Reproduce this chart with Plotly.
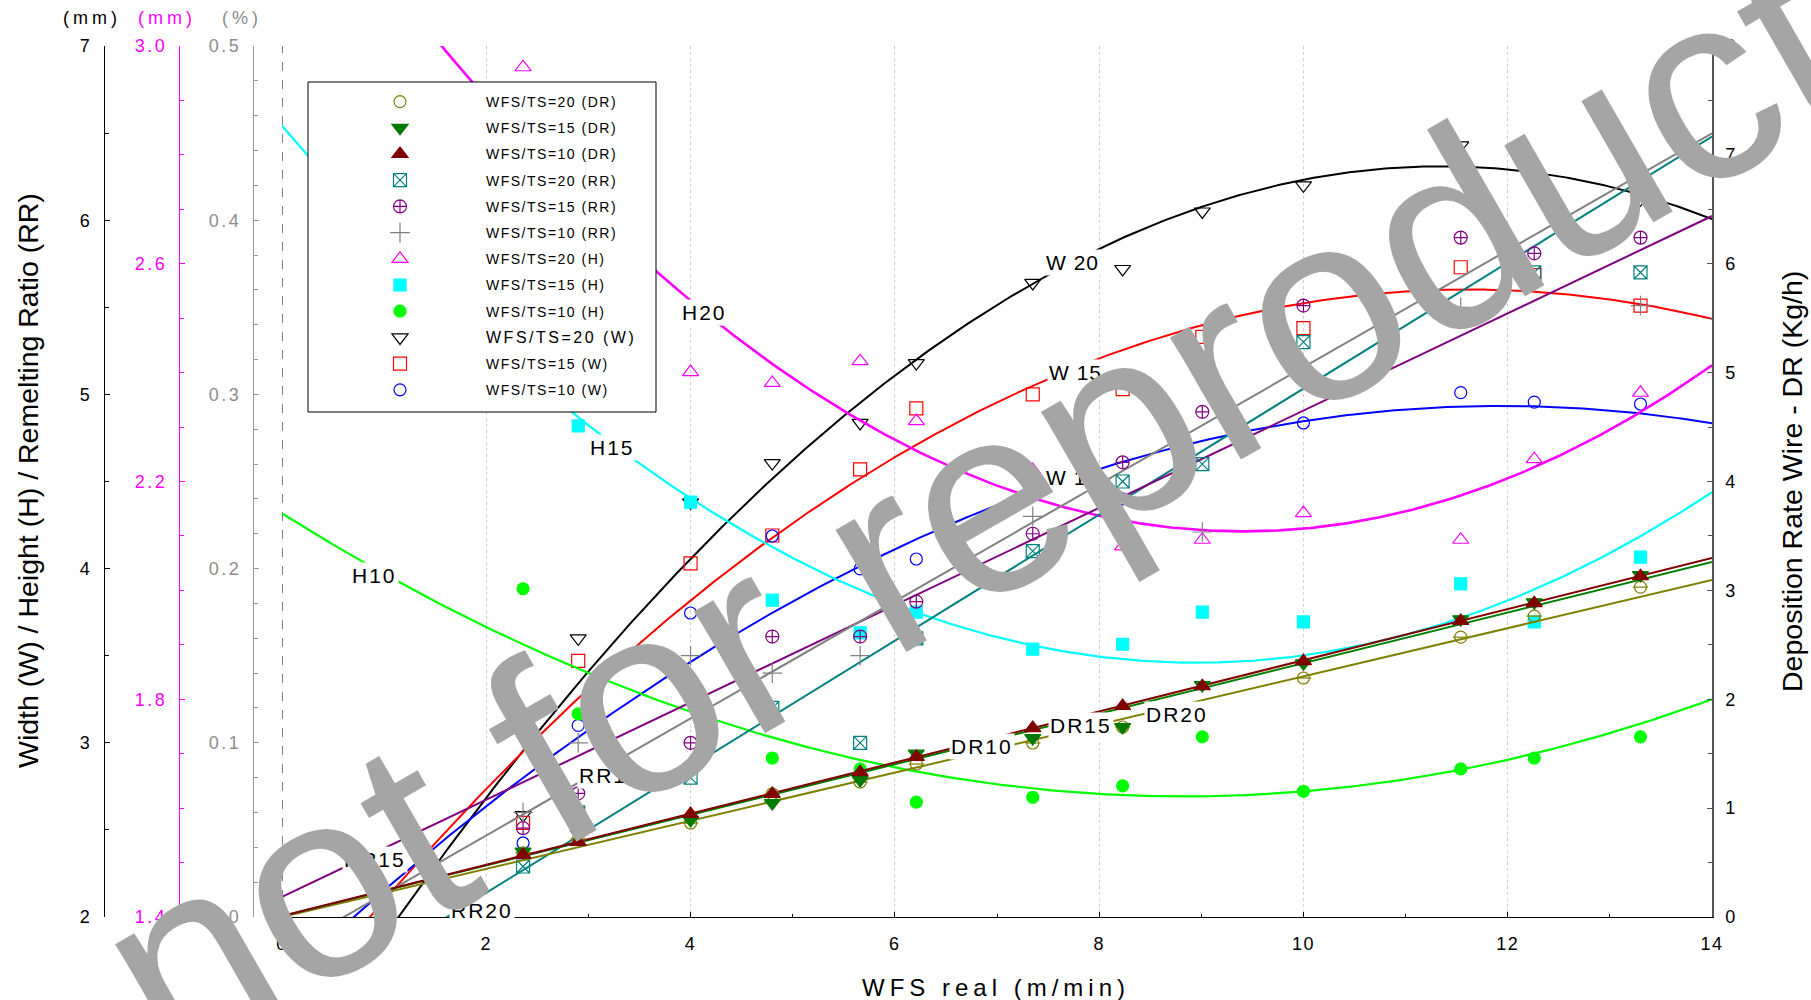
import numpy as np
import plotly.graph_objects as go

FONT = "Liberation Sans, Arial, sans-serif"
FIG_W, FIG_H = 1811, 1000

# ---------------- measured data (WFS real, m/min) ----------------
wfs = [2.36, 2.90, 4.00, 4.80, 5.66, 6.21, 7.35, 8.23, 9.01, 10.00, 11.54, 12.26, 13.30]

# Width (mm)
w20 = [2.585, 3.60, 4.38, 4.606, 4.836, 5.18, 5.64, 5.72, 6.05, 6.20, 6.43, 6.28, 6.12]
w15 = [2.54, 3.47, 4.03, 4.19, 4.57, 4.92, 5.00, 5.03, 5.33, 5.38, 5.73, 5.685, 5.51]
w10 = [2.425, 3.10, 3.745, 4.187, 3.998, 4.055, 4.48, 4.40, None, 4.836, 5.01, 4.956, 4.945]
# Height (mm)
h20 = [2.961, None, 2.401, 2.381, 2.421, 2.311, 2.221, 2.081, 2.093, 2.142, 2.093, 2.241, 2.363]
h15 = [None, 2.302, 2.162, 1.982, 1.922, 1.960, 1.892, 1.901, 1.960, 1.942, 2.012, 1.942, 2.061]
h10 = [2.003, 1.773, 1.811, 1.692, 1.672, 1.611, 1.620, 1.641, 1.731, 1.631, 1.672, 1.692, 1.731]
# Remelting ratio (%)
rr20 = [0.029, 0.060, 0.080, 0.120, 0.100, 0.160, 0.210, 0.250, 0.260, 0.330, 0.430, 0.370, 0.370]
rr15 = [0.051, 0.071, 0.100, 0.161, 0.161, 0.181, 0.220, 0.261, 0.290, 0.351, 0.390, 0.381, 0.390]
rr10 = [0.060, 0.100, 0.150, 0.140, 0.150, None, 0.230, None, 0.221, 0.310, 0.350, None, 0.351]
# Deposition rate (kg/h)
dr20 = [0.59, 0.716, 0.863, 1.13, 1.24, 1.405, 1.598, 1.745, None, 2.195, 2.57, 2.764, 3.03]
dr15 = [0.60, 0.762, 0.89, 1.047, 1.258, 1.50, 1.644, 1.745, 2.13, 2.33, 2.735, 2.89, 3.14]
dr10 = [0.57, 0.69, 0.946, 1.13, 1.33, 1.47, 1.735, 1.938, 2.12, 2.35, 2.72, 2.883, 3.13]

# ---------------- trend curves: points read on the drawn curves ----------------
trend_w20_x = [1.13, 4.00, 4.78, 6.05, 7.35, 9.01, 10.95, 11.54, 12.26, 13.30, 14.00]
trend_w20_y = [2.00, 4.02, 4.51, 5.146, 5.65, 6.087, 6.29, 6.30, 6.27, 6.14, 6.02]
trend_w15_x = [0.86, 4.80, 5.65, 6.05, 7.50, 8.01, 9.01, 10.00, 10.95, 11.54, 12.26, 13.30, 14.00]
trend_w15_y = [2.00, 4.18, 4.51, 4.66, 5.09, 5.21, 5.39, 5.52, 5.59, 5.61, 5.59, 5.52, 5.43]
trend_w10_x = [0.70, 5.65, 6.27, 7.47, 7.99, 10.00, 10.75, 11.54, 12.26, 13.30, 14.00]
trend_w10_y = [2.00, 4.00, 4.19, 4.47, 4.58, 4.836, 4.905, 4.93, 4.93, 4.89, 4.836]
trend_h20_x = [1.55, 1.86, 3.65, 3.98, 4.26, 5.52, 6.25, 6.82, 7.62, 9.36, 11.18, 11.98, 12.26, 13.30, 14.00]
trend_h20_y = [3.00, 2.936, 2.588, 2.537, 2.495, 2.326, 2.252, 2.203, 2.155, 2.109, 2.155, 2.203, 2.228, 2.326, 2.414]
trend_h15_x = [0.00, 0.18, 2.87, 3.15, 3.44, 3.74, 4.34, 5.68, 6.05, 9.00, 11.50, 14.00]
trend_h15_y = [2.853, 2.813, 2.322, 2.287, 2.241, 2.203, 2.129, 1.997, 1.964, 1.872, 1.946, 2.18]
trend_h10_x = [0.00, 0.76, 1.14, 6.05, 6.20, 8.85, 10.00, 11.54, 14.00]
trend_h10_y = [2.142, 2.056, 2.015, 1.674, 1.665, 1.622, 1.631, 1.672, 1.799]
trend_rr20_x = [1.63, 2.18, 14.00]
trend_rr20_y = [0.000, 0.021, 0.448]
trend_rr15_x = [0.00, 14.00]
trend_rr15_y = [0.0115, 0.4024]
trend_rr10_x = [2.36, 3.32, 14.00]
trend_rr10_y = [0.060, 0.090, 0.450]
trend_dr20_x = [0.00, 14.00]
trend_dr20_y = [0.00, 3.095]
trend_dr15_x = [0.00, 14.00]
trend_dr15_y = [0.01, 3.26]
trend_dr10_x = [0.00, 14.00]
trend_dr10_y = [0.01, 3.297]

# tick values
x_ticks = [0, 2, 4, 6, 8, 10, 12, 14]
w_ticks = [2, 3, 4, 5, 6, 7]
h_ticks = [1.4, 1.8, 2.2, 2.6, 3.0]
rr_ticks = [0, 0.1, 0.2, 0.3, 0.4, 0.5]
dr_ticks = [0, 1, 2, 3, 4, 5, 6, 7, 8]


def sp(text, s):
    return f'<span style="letter-spacing:{s}px">{text}</span>'


def pxx(p):
    return p / FIG_W


def pxy(p):
    return 1 - p / FIG_H


fig = go.Figure()

# ---- trend curves ----
trends = [
    (trend_dr20_x, trend_dr20_y, 1, "y4", "#808000", 2),
    (trend_dr15_x, trend_dr15_y, 1, "y4", "#008000", 2),
    (trend_dr10_x, trend_dr10_y, 1, "y4", "#800000", 2),
    (trend_rr20_x, trend_rr20_y, 1, "y3", "#008080", 2),
    (trend_rr15_x, trend_rr15_y, 1, "y3", "#800080", 2),
    (trend_rr10_x, trend_rr10_y, 1, "y3", "#808080", 2),
    (trend_h20_x, trend_h20_y, 2, "y2", "#ff00ff", 2.6),
    (trend_h15_x, trend_h15_y, 2, "y2", "#00ffff", 2.2),
    (trend_h10_x, trend_h10_y, 2, "y2", "#00ff00", 2.2),
    (trend_w20_x, trend_w20_y, 3, "y", "#000000", 2),
    (trend_w15_x, trend_w15_y, 3, "y", "#ff0000", 2),
    (trend_w10_x, trend_w10_y, 3, "y", "#0000ff", 2),
]
xs_fit = np.linspace(0, 14, 421)
for tx, ty, deg, yax, col, lw in trends:
    coef = np.polyfit(tx, ty, deg)
    fig.add_trace(go.Scatter(x=xs_fit, y=np.polyval(coef, xs_fit), mode="lines", yaxis=yax,
                             line=dict(color=col, width=lw), showlegend=False, hoverinfo="skip"))

# ---- markers ----
series = [
    ("WFS/TS=20 (DR)", dr20, "y4", "circle-open", "#808000", 12),
    ("WFS/TS=15 (DR)", dr15, "y4", "triangle-down", "#007a00", 14),
    ("WFS/TS=10 (DR)", dr10, "y4", "triangle-up", "#800000", 14),
    ("WFS/TS=20 (RR)", rr20, "y3", "square-x-open", "#008080", 13),
    ("WFS/TS=15 (RR)", rr15, "y3", "circle-cross-open", "#800080", 13),
    ("WFS/TS=10 (RR)", rr10, "y3", "cross-thin-open", "#808080", 14),
    ("WFS/TS=20 (H)", h20, "y2", "triangle-up-open", "#ff00ff", 14),
    ("WFS/TS=15 (H)", h15, "y2", "square", "#00ffff", 12),
    ("WFS/TS=10 (H)", h10, "y2", "circle", "#00ff00", 12),
    ("WFS/TS=20 (W)", w20, "y", "triangle-down-open", "#000000", 14),
    ("WFS/TS=15 (W)", w15, "y", "square-open", "#ff0000", 13),
    ("WFS/TS=10 (W)", w10, "y", "circle-open", "#0000ff", 12),
]
for i, (name, vals, yax, sym, col, size) in enumerate(series):
    if name == "WFS/TS=20 (W)":
        label = '<span style="font-size:16px;letter-spacing:2.5px">' + name + '</span>'
    else:
        label = sp(name, 1.5)
    fig.add_trace(go.Scatter(
        x=wfs, y=vals, mode="markers", yaxis=yax, name=label, legendgroup=f"g{i}",
        marker=dict(symbol=sym, size=size, color=col, line=dict(color=col, width=1.2)),
        hoverinfo="skip"))
    if name == "WFS/TS=20 (DR)":
        # horizontal bar inside the circle (theta-like marker)
        fig.add_trace(go.Scatter(
            x=wfs, y=vals, mode="markers", yaxis=yax, showlegend=False, legendgroup=f"g{i}",
            marker=dict(symbol="line-ew-open", size=11, color=col, line=dict(color=col, width=1.2)),
            hoverinfo="skip"))

TS = 2.5  # tick label letter spacing
tick_font = dict(family=FONT, size=18, color="black")
XDOM = [pxx(282), pxx(1712)]
YDOM = [pxy(917), pxy(46)]

fig.update_layout(
    width=FIG_W, height=FIG_H,
    margin=dict(l=0, r=0, t=0, b=0),
    paper_bgcolor="white", plot_bgcolor="white",
    font=dict(family=FONT, color="black"),
    xaxis=dict(domain=XDOM, range=[0, 14], anchor="y",
               tickmode="array", tickvals=x_ticks, ticktext=[sp(str(v), 1.5) for v in x_ticks],
               ticks="inside", ticklen=5, tickcolor="black", tickfont=tick_font,
               ticklabelstandoff=10,
               minor=dict(tickmode="linear", tick0=0, dtick=1, ticks="inside", ticklen=3,
                          tickcolor="black", showgrid=False),
               showline=True, linecolor="black", linewidth=1.3,
               showgrid=True, gridcolor="#cfcfcf", griddash="dot", gridwidth=1,
               zeroline=False, automargin=False),
    yaxis=dict(domain=YDOM, range=[2, 7], anchor="free", position=pxx(104), side="left",
               tickmode="array", tickvals=w_ticks, ticktext=[sp(str(v), TS) for v in w_ticks],
               ticks="inside", ticklen=5, tickcolor="black", tickfont=tick_font,
               ticklabelstandoff=8,
               minor=dict(tickmode="linear", tick0=2, dtick=0.5, ticks="inside", ticklen=4,
                          tickcolor="black"),
               showline=True, linecolor="black", linewidth=1.2,
               showgrid=False, zeroline=False, automargin=False),
    yaxis2=dict(domain=YDOM, range=[1.4, 3.0], anchor="free", position=pxx(179), side="left",
                overlaying="y",
                tickmode="array", tickvals=h_ticks, ticktext=[sp(f"{v:.1f}", TS) for v in h_ticks],
                ticks="inside", ticklen=5, tickcolor="#ff00ff",
                tickfont=dict(family=FONT, size=18, color="#ff00ff"),
                ticklabelstandoff=8,
                minor=dict(tickmode="linear", tick0=1.4, dtick=0.1, ticks="inside", ticklen=4,
                           tickcolor="#ff00ff"),
                showline=True, linecolor="#ff00ff", linewidth=1.2,
                showgrid=False, zeroline=False, automargin=False),
    yaxis3=dict(domain=YDOM, range=[0, 0.5], anchor="free", position=pxx(253), side="left",
                overlaying="y",
                tickmode="array", tickvals=rr_ticks, ticktext=[sp(f"{v:g}", TS) for v in rr_ticks],
                ticks="inside", ticklen=5, tickcolor="#999999",
                tickfont=dict(family=FONT, size=18, color="#8c8c8c"),
                ticklabelstandoff=8,
                minor=dict(tickmode="linear", tick0=0, dtick=0.02, ticks="inside", ticklen=4,
                           tickcolor="#999999"),
                showline=True, linecolor="#999999", linewidth=1.2,
                showgrid=False, zeroline=False, automargin=False),
    yaxis4=dict(domain=YDOM, range=[0, 8], anchor="x", side="right", overlaying="y",
                tickmode="array", tickvals=dr_ticks, ticktext=[sp(str(v), TS) for v in dr_ticks],
                ticks="inside", ticklen=5, tickcolor="#555555", tickfont=tick_font,
                ticklabelstandoff=8,
                minor=dict(tickmode="linear", tick0=0, dtick=0.5, ticks="inside", ticklen=4,
                           tickcolor="#555555"),
                showline=True, linecolor="#555555", linewidth=1.5,
                showgrid=False, zeroline=False, automargin=False),
    legend=dict(x=pxx(314), y=pxy(86), xanchor="left", yanchor="top",
                bgcolor="rgba(0,0,0,0)", borderwidth=0,
                font=dict(family=FONT, size=14, color="black"),
                itemwidth=162, tracegroupgap=5, traceorder="grouped"),
    showlegend=True,
)

# legend frame (white, hides curves behind the legend)
fig.add_shape(type="rect", xref="paper", yref="paper",
              x0=pxx(308), x1=pxx(656), y0=pxy(412), y1=pxy(82),
              fillcolor="white", line=dict(color="black", width=1), layer="above")
# dashed line at WFS = 0
fig.add_shape(type="line", xref="x", yref="paper", x0=0, x1=0, y0=YDOM[0], y1=YDOM[1],
              line=dict(color="black", width=1, dash="dash"), layer="below")

# axis unit labels
for txt, xp, col in [("(mm)", 92, "black"), ("(mm)", 167, "#ff00ff"), ("(%)", 242, "#8c8c8c")]:
    fig.add_annotation(text=sp(txt, 4), x=pxx(xp), y=pxy(18), xref="paper", yref="paper",
                       showarrow=False, xanchor="center", yanchor="middle",
                       font=dict(family=FONT, size=18, color=col))

# axis titles
fig.add_annotation(text="Width (W) / Height (H) / Remelting Ratio (RR)", x=pxx(28), y=pxy(481),
                   xref="paper", yref="paper", showarrow=False, textangle=-90,
                   xanchor="center", yanchor="middle", font=dict(family=FONT, size=28.5, color="black"))
fig.add_annotation(text="Deposition Rate Wire - DR (Kg/h)", x=pxx(1792), y=pxy(482),
                   xref="paper", yref="paper", showarrow=False, textangle=-90,
                   xanchor="center", yanchor="middle", font=dict(family=FONT, size=28.5, color="black"))
fig.add_annotation(text=sp("WFS real (m/min)", 5), x=pxx(996), y=pxy(987),
                   xref="paper", yref="paper", showarrow=False,
                   xanchor="center", yanchor="middle", font=dict(family=FONT, size=24, color="black"))

# curve labels
curve_labels = [
    ("H20", 704, 312, 2), ("H15", 612, 447, 2), ("H10", 374, 575, 2),
    ("W 20", 1072, 262, 1), ("W 15", 1075, 372, 1), ("W 10", 1072, 477, 1),
    ("RR10", 610, 775, 2), ("RR15", 375, 859, 2), ("RR20", 482, 910, 2),
    ("DR10", 982, 746, 2), ("DR15", 1081, 725, 2), ("DR20", 1177, 714, 2),
]
for txt, xp, yp, s in curve_labels:
    fig.add_annotation(text=sp(txt, s), x=pxx(xp), y=pxy(yp), xref="paper", yref="paper",
                       showarrow=False, xanchor="center", yanchor="middle", bgcolor="white",
                       borderpad=1, font=dict(family=FONT, size=21, color="black"))

# watermark
fig.add_annotation(text="not for reproduction", x=pxx(1127), y=pxy(419), xref="paper", yref="paper",
                   showarrow=False, textangle=-29.9, xanchor="center", yanchor="middle",
                   font=dict(family=FONT, size=267, color="#a5a5a5"))

fig.write_html("out.html")
